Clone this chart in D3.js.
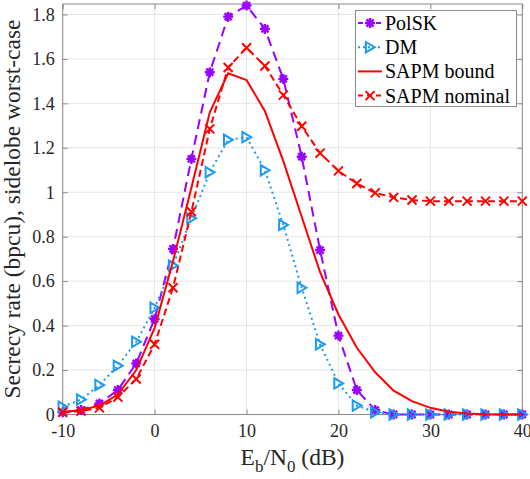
<!DOCTYPE html>
<html>
<head>
<meta charset="utf-8">
<script src="https://cdn.jsdelivr.net/npm/d3@7"></script>
</head>
<body style="margin:0; background:#fff">
<div id="chart"></div>
<script>
// Eb/N0 values in dB
var snr = [-10, -8, -6, -4, -2, 0, 2, 4, 6, 8, 10, 12, 14, 16, 18, 20, 22, 24, 26, 28, 30, 32, 34, 36, 38, 40];

// secrecy rate for each scheme (bpcu)
var polsk = [0.01, 0.02, 0.05, 0.11, 0.23, 0.43, 0.745, 1.15, 1.54, 1.79, 1.84, 1.735, 1.51, 1.16, 0.74, 0.355, 0.11, 0.02, 0, 0, 0, 0, 0, 0, 0, 0];
var dm = [0.035, 0.067, 0.133, 0.219, 0.327, 0.48, 0.67, 0.883, 1.09, 1.236, 1.248, 1.099, 0.853, 0.57, 0.316, 0.14, 0.04, 0.01, 0, 0, 0, 0, 0, 0, 0, 0];
var sapmBound = [0.01, 0.02, 0.04, 0.09, 0.2, 0.39, 0.69, 1.02, 1.36, 1.535, 1.505, 1.365, 1.14, 0.89, 0.64, 0.45, 0.3, 0.19, 0.107, 0.06, 0.03, 0.012, 0.004, 0.001, 0, 0];
var sapmNominal = [0.01, 0.015, 0.03, 0.078, 0.16, 0.316, 0.57, 0.912, 1.285, 1.561, 1.65, 1.568, 1.437, 1.297, 1.176, 1.096, 1.039, 0.997, 0.977, 0.965, 0.96, 0.96, 0.96, 0.96, 0.96, 0.96];

var xTicks = [-10, 0, 10, 20, 30, 40];
var yTicks = [0, 0.2, 0.4, 0.6, 0.8, 1, 1.2, 1.4, 1.6, 1.8];
var legendNames = ["PolSK", "DM", "SAPM bound", "SAPM nominal"];

var width = 530, height = 479;
var plotLeft = 62.7, plotRight = 522.3, plotTop = 4, plotBottom = 414.5;
var serif = "Liberation Serif";

var svg = d3.select("#chart").append("svg")
    .attr("width", width)
    .attr("height", height)
    .style("display", "block");

var x = d3.scaleLinear().domain([-10, 40]).range([plotLeft, plotRight]);
var y = d3.scaleLinear().domain([0, 1.847]).range([plotBottom, plotTop]);

// grid
svg.append("g").selectAll("line")
    .data(xTicks).enter().append("line")
    .attr("x1", function(d){ return x(d); }).attr("x2", function(d){ return x(d); })
    .attr("y1", plotTop).attr("y2", plotBottom)
    .attr("stroke", "#e6e6e6").attr("stroke-width", 1);
svg.append("g").selectAll("line")
    .data(yTicks).enter().append("line")
    .attr("y1", function(d){ return y(d); }).attr("y2", function(d){ return y(d); })
    .attr("x1", plotLeft).attr("x2", plotRight)
    .attr("stroke", "#e6e6e6").attr("stroke-width", 1);

// axes with inward ticks (matlab style), plus the mirrored top/right ones
var axisColor = "#8a8a8a";
function styleAxis(g) {
    g.attr("font-family", serif).attr("font-size", 18);
    g.selectAll(".domain").remove();
    g.selectAll(".tick line").attr("stroke", axisColor);
    g.selectAll(".tick text").attr("fill", "#262626");
}
svg.append("g")
    .attr("transform", "translate(0," + plotBottom + ")")
    .call(d3.axisBottom(x).tickValues(xTicks).tickSizeInner(-5).tickSizeOuter(0).tickPadding(10)
        .tickFormat(function(d){ return d < 0 ? "-" + Math.abs(d) : d; }))
    .call(styleAxis);
svg.append("g")
    .attr("transform", "translate(" + plotLeft + ",0)")
    .call(d3.axisLeft(y).tickValues(yTicks).tickSizeInner(-5).tickSizeOuter(0).tickPadding(8)
        .tickFormat(function(d){ return d3.format("~g")(d); }))
    .call(styleAxis);
svg.append("g")
    .attr("transform", "translate(0," + plotTop + ")")
    .call(d3.axisTop(x).tickValues(xTicks).tickSizeInner(-5).tickSizeOuter(0).tickFormat(""))
    .call(styleAxis);
svg.append("g")
    .attr("transform", "translate(" + plotRight + ",0)")
    .call(d3.axisRight(y).tickValues(yTicks).tickSizeInner(-5).tickSizeOuter(0).tickFormat(""))
    .call(styleAxis);

svg.append("rect")
    .attr("x", plotLeft).attr("y", plotTop)
    .attr("width", plotRight - plotLeft).attr("height", plotBottom - plotTop)
    .attr("fill", "none").attr("stroke", axisColor).attr("stroke-width", 1);

// marker shapes
function asterisk(s) {
    var d = s * 0.707;
    return "M" + (-s) + ",0L" + s + ",0M0," + (-s) + "L0," + s +
        "M" + (-d) + "," + (-d) + "L" + d + "," + d + "M" + (-d) + "," + d + "L" + d + "," + (-d);
}
function triRight(s) {
    return "M" + (-s * 0.8) + "," + (-s) + "L" + (s * 0.9) + ",0L" + (-s * 0.8) + "," + s + "Z";
}
function cross(s) {
    return "M" + (-s) + "," + (-s) + "L" + s + "," + s + "M" + (-s) + "," + s + "L" + s + "," + (-s);
}

var series = [
    { name: legendNames[0], values: polsk, color: "#9a00ff", dash: "10,6", marker: asterisk(5), mw: 2.4 },
    { name: legendNames[1], values: dm, color: "#1a9bf0", dash: "2,3.5", marker: triRight(5.2), mw: 2 },
    { name: legendNames[2], values: sapmBound, color: "#ff0000", dash: null, marker: null, mw: 2 },
    { name: legendNames[3], values: sapmNominal, color: "#ff0000", dash: "7,4", marker: cross(4.5), mw: 2 }
];

var line = d3.line()
    .x(function(d){ return x(d[0]); })
    .y(function(d){ return y(d[1]); });

series.forEach(function(s) {
    var pts = d3.zip(snr, s.values);
    svg.append("path")
        .datum(pts)
        .attr("d", line)
        .attr("fill", "none")
        .attr("stroke", s.color)
        .attr("stroke-width", 2)
        .attr("stroke-dasharray", s.dash);
    if (s.marker) {
        svg.append("g").selectAll("path")
            .data(pts).enter().append("path")
            .attr("d", s.marker)
            .attr("transform", function(d){ return "translate(" + x(d[0]) + "," + y(d[1]) + ")"; })
            .attr("fill", "none")
            .attr("stroke", s.color)
            .attr("stroke-width", s.mw);
    }
});

// legend
var lg = svg.append("g");
lg.append("rect")
    .attr("x", 355.5).attr("y", 10.5).attr("width", 161).attr("height", 96)
    .attr("fill", "#fff").attr("stroke", axisColor).attr("stroke-width", 1);
series.forEach(function(s, i) {
    var cy = 23 + i * 24.2;
    lg.append("line")
        .attr("x1", 358).attr("x2", 382).attr("y1", cy).attr("y2", cy)
        .attr("stroke", s.color).attr("stroke-width", 2)
        .attr("stroke-dasharray", s.dash ? (i == 1 ? "2,3" : "5,4") : null);
    if (s.marker) {
        lg.append("path")
            .attr("d", s.marker)
            .attr("transform", "translate(370," + cy + ")")
            .attr("fill", "none").attr("stroke", s.color).attr("stroke-width", s.mw);
    }
    lg.append("text")
        .attr("x", 385).attr("y", cy + 7)
        .attr("font-family", serif)
        .attr("font-size", 20)
        .attr("fill", "#000")
        .text(s.name);
});

// axis labels
var xl = svg.append("text")
    .attr("x", 292.5).attr("y", 465)
    .attr("text-anchor", "middle")
    .attr("font-family", serif)
    .attr("font-size", 23.5)
    .attr("fill", "#262626");
xl.append("tspan").text("E");
xl.append("tspan").attr("dy", 7).attr("font-size", 17).text("b");
xl.append("tspan").attr("dy", -7).text("/N");
xl.append("tspan").attr("dy", 7).attr("font-size", 17).text("0");
xl.append("tspan").attr("dy", -7).text(" (dB)");

svg.append("text")
    .attr("transform", "translate(20," + 209 + ") rotate(-90)")
    .attr("text-anchor", "middle")
    .attr("font-family", serif)
    .attr("font-size", 23.5)
    .attr("fill", "#262626")
    .text("Secrecy rate (bpcu), sidelobe worst-case");
</script>
</body>
</html>
